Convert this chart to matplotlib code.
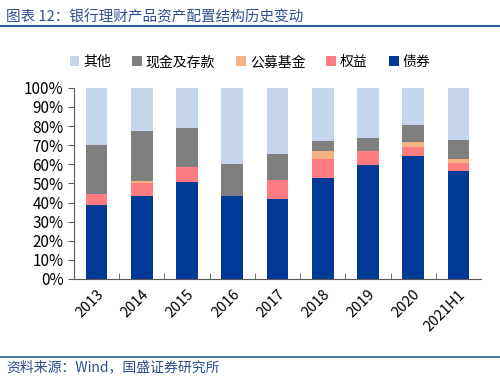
import matplotlib
matplotlib.use("Agg")
import matplotlib.pyplot as plt
import numpy as np

plt.rcParams["font.family"] = ["Noto Sans CJK SC", "DejaVu Sans"]

# 数据（%）
years = ["2013", "2014", "2015", "2016", "2017", "2018", "2019", "2020", "2021H1"]
bond = [38.5, 43.6, 50.8, 43.6, 42.0, 53.0, 59.5, 64.2, 56.5]
equity = [6.2, 6.5, 7.8, 0.0, 9.8, 9.8, 7.5, 4.6, 4.1]
fund = [0.0, 1.2, 0.0, 0.0, 0.0, 3.9, 0.0, 2.8, 2.4]
cash = [25.3, 26.2, 20.3, 16.4, 13.5, 5.6, 6.7, 9.2, 9.9]
other = [100 - b - e - f - c for b, e, f, c in zip(bond, equity, fund, cash)]

series = [
    ("其他", other, "#C5D5EC"),
    ("现金及存款", cash, "#7F7F7F"),
    ("公募基金", fund, "#F4B183"),
    ("权益", equity, "#FF7C80"),
    ("债券", bond, "#003A96"),
]

fig = plt.figure(figsize=(5.0, 3.77), dpi=100)
ax = fig.add_axes([0.148, 0.26, 0.814, 0.507])

x = np.arange(len(years))
# 从下往上堆叠：债券、权益、公募基金、现金及存款、其他
bottom = np.zeros(len(years))
handles = {}
for name, vals, color in reversed(series):
    h = ax.bar(x, vals, width=0.48, bottom=bottom, color=color, label=name)
    handles[name] = h
    bottom += np.array(vals)

ax.set_xlim(-0.5, len(years) - 0.5)
ax.set_ylim(0, 100)
ax.set_yticks(np.arange(0, 101, 10))
ax.set_yticklabels([f"{v}%" for v in range(0, 101, 10)], fontsize=11)
ax.set_xticks(x)
ax.set_xticklabels(years, rotation=45, fontsize=10.5, ha="right", rotation_mode="anchor")
ax.tick_params(axis="x", length=0, pad=6)
ax.set_xticks(np.arange(0.5, len(years) - 0.5, 1), minor=True)
ax.tick_params(axis="x", which="minor", length=4, direction="in", color="#595959")
ax.tick_params(axis="y", length=4, direction="out", color="#595959")
for s in ["top", "right"]:
    ax.spines[s].set_visible(False)
ax.spines["left"].set_color("#595959")
ax.spines["bottom"].set_color("#595959")

ax.legend([handles[n] for n, _, _ in series], [n for n, _, _ in series],
          loc="center", bbox_to_anchor=(0.5, 0.835), bbox_transform=fig.transFigure,
          ncol=5, frameon=False, fontsize=10, handlelength=0.7, handleheight=0.7,
          handletextpad=0.3, columnspacing=1.5)

# 标题与来源
fig.text(0.012, 0.955, "图表 12：银行理财产品资产配置结构历史变动", fontsize=10.5,
         color="#2F4F8F", va="center")
fig.add_artist(plt.Line2D([0, 1], [0.93, 0.93], color="#2E5C9A", lw=1.5))
fig.add_artist(plt.Line2D([0, 1], [0.053, 0.053], color="#2E5C9A", lw=1.2))
fig.text(0.012, 0.025, "资料来源：Wind，国盛证券研究所", fontsize=10,
         color="#2F4F8F", va="center")

fig.savefig("out.png", dpi=100)
